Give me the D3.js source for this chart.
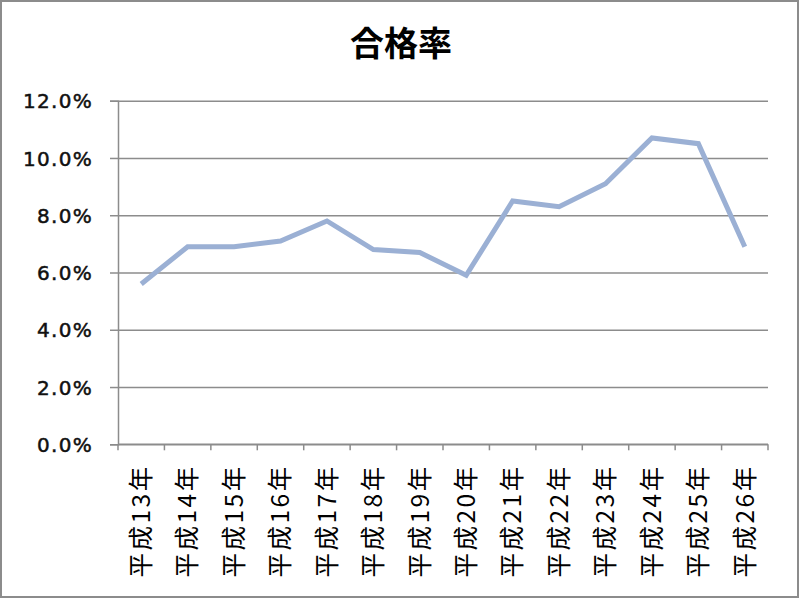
<!DOCTYPE html>
<html><head><meta charset="utf-8">
<script src="https://cdn.jsdelivr.net/npm/d3@7/dist/d3.min.js"></script>
<style>html,body{margin:0;padding:0;background:#fff;}</style>
</head><body>
<svg id="chart" width="800" height="600"></svg>
<script>
const title = "合格率";
const categories = ["平成13年","平成14年","平成15年","平成16年","平成17年","平成18年","平成19年","平成20年","平成21年","平成22年","平成23年","平成24年","平成25年","平成26年"];
const passRate = [5.6, 6.9, 6.9, 7.1, 7.8, 6.8, 6.7, 5.9, 8.5, 8.3, 9.1, 10.7, 10.5, 6.9];
const yTicks = [0, 2, 4, 6, 8, 10, 12];

(function () {
const svg = d3.select("#chart");
const mLeft = 118, mRight = 768, mTop = 100.7, mBottom = 444.3;

svg.append("rect").attr("x", 1).attr("y", 1).attr("width", 797).attr("height", 596)
  .attr("fill", "#fff").attr("stroke", "#8c8c8c").attr("stroke-width", 2);

svg.append("text").attr("x", 401).attr("y", 56).attr("text-anchor", "middle")
  .attr("font-family", "Noto Sans CJK JP").attr("font-weight", "bold").attr("font-size", 34)
  .attr("fill", "#000").text(title);

const x = d3.scaleBand().domain(categories).range([mLeft, mRight]).padding(0);
const y = d3.scaleLinear().domain([0, 12]).range([mBottom, mTop]);

const yAxis = d3.axisLeft(y).tickValues(yTicks).tickSize(8).tickFormat(d => d.toFixed(1) + "%");
const yg = svg.append("g").attr("transform", `translate(${mLeft},0)`).call(yAxis);
yg.select(".domain").attr("stroke", "#8c8c8c").attr("stroke-width", 1.5);
yg.selectAll(".tick line").attr("stroke", "#8c8c8c").attr("stroke-width", 1.5);
yg.selectAll(".tick").append("line").attr("x1", 0).attr("x2", mRight - mLeft)
  .attr("stroke", "#8c8c8c").attr("stroke-width", 1.5);
yg.selectAll(".tick text").attr("x", -25).attr("dy", "0.36em")
  .attr("font-family", "DejaVu Sans").attr("font-weight", "normal").attr("font-size", 20)
  .attr("letter-spacing", 1.3).attr("stroke", "#111").attr("stroke-width", 0.5).attr("fill", "#111");

const xg = svg.append("g").attr("transform", `translate(0,${mBottom})`);
xg.append("line").attr("x1", mLeft).attr("x2", mRight).attr("stroke", "#8c8c8c").attr("stroke-width", 1.5);
const bounds = categories.map(c => x(c)).concat([x(categories[categories.length - 1]) + x.bandwidth()]);
xg.selectAll("line.tk").data(bounds).join("line").attr("class", "tk")
  .attr("x1", d => d).attr("x2", d => d).attr("y1", 0).attr("y2", 6)
  .attr("stroke", "#8c8c8c").attr("stroke-width", 1.5);
xg.selectAll("text.lbl").data(categories).join("text").attr("class", "lbl")
  .attr("transform", d => `translate(${x(d) + x.bandwidth() / 2},20) rotate(-90)`)
  .attr("text-anchor", "end").attr("dy", "0.36em")
  .attr("font-family", "Noto Sans CJK JP").attr("font-size", 24.5).attr("letter-spacing", 2.5)
  .attr("fill", "#000").text(d => d);

const line = d3.line().x((d, i) => x(categories[i]) + x.bandwidth() / 2).y(d => y(d));
svg.append("path").datum(passRate).attr("d", line).attr("fill", "none")
  .attr("stroke", "#9bb0d4").attr("stroke-width", 5).attr("stroke-linejoin", "miter");
})();
</script>
</body></html>
